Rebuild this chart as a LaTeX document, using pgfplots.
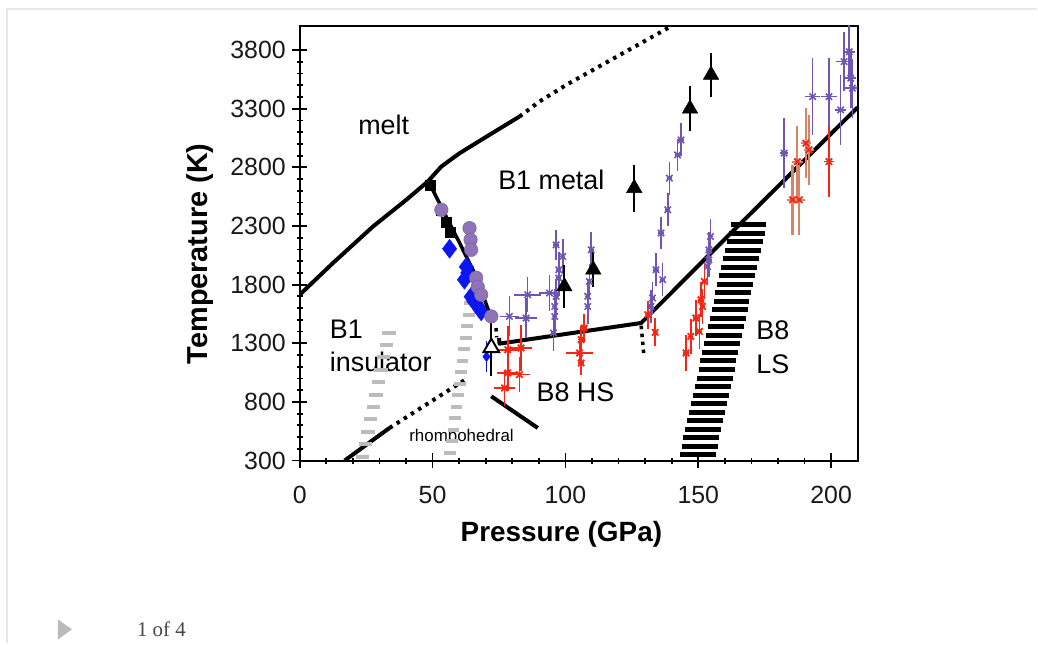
\documentclass[border=0pt]{standalone}
\usepackage{pgfplots}
\usepackage{pgfplotstable}
\pgfplotsset{compat=1.18}
\usepackage{fontspec}
\setmainfont{Liberation Sans}
\newfontfamily\captionserif{Liberation Serif}

\definecolor{vio}{RGB}{112,86,178}
\definecolor{circfill}{RGB}{142,116,182}
\definecolor{circedge}{RGB}{118,92,160}
\definecolor{dia}{RGB}{12,22,238}
\definecolor{rd}{RGB}{246,38,22}
\definecolor{rdbar}{RGB}{214,132,104}
\definecolor{hatchgray}{RGB}{188,188,188}
\definecolor{framegray}{RGB}{232,232,232}

% purple crosses: pressure, temperature, errors
\pgfplotstableread{
P T eP eT
78.9 1529 3.5 170
85.2 1515 4.0 170
85.8 1714 5.0 150
94.0 1728 4.0 150
96.5 2140 1.0 130
99.0 2040 1.0 150
97.5 1927 1.0 150
97.5 1856 1.0 150
96.5 1700 1.0 150
96.0 1614 1.0 150
96.0 1529 1.0 150
95.5 1388 1.0 150
109.7 2097 1.0 150
109.0 1827 1.0 150
108.4 1700 1.0 150
108.4 1614 1.0 150
143.5 3034 1.0 140
142.2 2906 1.0 140
139.1 2708 1.0 140
138.5 2438 1.0 140
136.0 2240 1.0 140
134.1 1927 1.0 140
136.6 1842 1.0 140
132.8 1686 1.0 140
132.2 1614 1.0 140
154.6 2211 1.0 150
154.0 2097 1.0 150
154.0 2012 1.0 150
153.5 1955 1.0 150
182.3 2921 1.5 300
193.0 3403 3.0 330
199.2 3403 3.0 330
203.6 3290 2.0 300
206.8 3786 2.0 250
204.9 3701 3.0 250
207.4 3560 2.0 250
208.0 3475 3.0 250
}\violetpts

% red crosses
\pgfplotstableread{
P T eP eT
77.1 919 4.0 150
78.3 1047 4.0 150
82.7 1033 4.0 150
78.3 1245 4.0 200
83.3 1260 4.0 200
107.1 1430 1.0 120
105.9 1331 1.0 120
105.3 1217 5.0 100
105.9 1132 1.0 100
131.0 1544 1.0 120
133.8 1393 1.0 120
152.3 1827 1.0 150
151.0 1671 1.0 150
151.6 1614 1.0 150
149.1 1516 1.0 150
150.4 1401 1.0 150
147.2 1359 1.0 150
145.4 1217 1.0 150
199.2 2849 2.0 300
}\redpts

% red crosses with light brown error bars
\pgfplotstableread{
P T eP eT
190.5 3006 2.0 300
191.7 2949 2.0 300
187.3 2849 2.0 300
185.5 2523 2.0 300
188.0 2523 2.0 300
}\redbrown

% black triangles with temperature errors
\pgfplotstableread{
P T eT
99.6 1785 180
110.5 1927 150
125.9 2623 200
146.9 3300 190
154.8 3588 190
}\triangles

% purple circles
\pgfplotstableread{
P T
53.3 2438
63.9 2282
64.3 2182
64.5 2097
66.4 1859
67.0 1782
68.3 1714
72.1 1529
}\circles

% blue diamonds
\pgfplotstableread{
P T
56.4 2106
62.7 1952
62.0 1842
63.2 1900
64.5 1697
65.5 1660
66.4 1637
67.5 1600
68.3 1572
}\diamonds

% black squares
\pgfplotstableread{
P T
49.2 2651
53.4 2438
55.3 2336
56.8 2250
}\squares

% B8 LS band: centre pressure and temperature of each stripe
\pgfplotstableread{
P T
149.8 350
150.5 423
151.2 495
151.9 568
152.6 640
153.3 713
154.0 786
154.8 858
155.5 931
156.2 1003
156.9 1076
157.6 1149
158.3 1221
159.0 1294
159.7 1366
160.4 1439
161.1 1512
161.8 1584
162.5 1657
163.2 1729
163.9 1802
164.5 1875
165.2 1947
165.9 2020
166.7 2092
167.5 2165
168.2 2238
168.9 2310
}\lsband

% grey bands near the insulator field
\pgfplotstableread{
P T
23.7 334
24.7 440
25.7 545
26.7 651
27.7 757
28.7 862
29.7 968
30.6 1073
31.6 1179
32.6 1285
33.6 1390
}\grayleft
\pgfplotstableread{
P T
56.7 365
57.3 463
57.9 562
58.4 660
59.0 758
59.6 857
60.2 955
60.7 1053
61.3 1152
61.9 1250
62.5 1348
63.0 1447
63.6 1545
64.2 1643
}\grayright

\begin{document}
\begin{tikzpicture}[x=1bp,y=1bp]
\fill[white] (0,0) rectangle (1038,-644);
\draw[framegray, line width=2bp] (7,-644) -- (7,-9) -- (1038,-9);
\fill[black!27] (58,-620) -- (72,-630) -- (58,-640) -- cycle;
\node[anchor=base west, inner sep=0pt, font=\captionserif\fontsize{21}{24}\selectfont, text=black!72] at (137,-637) {1 of 4};

\begin{axis}[
  at={(300bp,-461bp)}, anchor=south west,
  width=558.5bp, height=435.3bp, scale only axis,
  xmin=0, xmax=210, ymin=300, ymax=4008,
  axis line style={line width=2bp},
  tick pos=left,
  tick align=center,
  major tick length=15bp, minor tick length=6bp,
  every tick/.style={black, line width=1.8bp},
  xtick={0,50,100,150,200}, minor x tick num=4,
  ytick={300,800,1300,1800,2300,2800,3300,3800}, minor y tick num=4,
  /pgf/number format/assume math mode=true,
  /pgf/number format/1000 sep={},
  tick label style={font=\fontsize{25}{28}\selectfont, black!90},
  xticklabel style={yshift=-15bp},
  yticklabel style={xshift=-3bp},
  xlabel={Pressure (GPa)},
  ylabel={Temperature (K)},
  xlabel style={font=\bfseries\fontsize{28}{32}\selectfont, at={(axis description cs:0.469,0)}, anchor=center, yshift=-74bp},
  ylabel style={font=\bfseries\fontsize{29}{32}\selectfont, at={(axis description cs:-0.179,0.4755)}, anchor=center, rotate=0},
  clip=true,
]
% grey bands, drawn as short thick stripes
\addplot[only marks, mark=-, mark size=6.6bp, hatchgray, mark options={line width=4bp}]
  table[x=P, y=T] {\grayleft};
\addplot[only marks, mark=-, mark size=5.9bp, hatchgray, mark options={line width=4bp}]
  table[x=P, y=T] {\grayright};
% B8 LS band
\addplot[only marks, mark=-, mark size=18bp, black, mark options={line width=5bp}]
  table[x=P, y=T] {\lsband};

% melting curve
\addplot[black, line width=4bp, line join=round] coordinates {
  (0,1714) (12.5,1984) (27.6,2296) (40.1,2523) (48.2,2679) (53.3,2807)
  (60.2,2921) (71.4,3077) (82.7,3233)};
\addplot[black, line width=4bp, dash pattern=on 3.5bp off 5bp] coordinates {
  (82.7,3233) (90.2,3361) (100.3,3503) (140.2,4008)};

% insulator / rhombohedral boundary
\addplot[black, line width=4bp] coordinates {(16.9,300) (33.8,578)};
\addplot[black, line width=4bp, dash pattern=on 3.5bp off 5bp] coordinates {(33.8,578) (63.3,1004)};
% rhombohedral / B8 boundary
\addplot[black, line width=4bp] coordinates {(72.1,848) (89.6,578)};

% insulator / metal boundary along the black squares
\addplot[black, line width=3.5bp] coordinates {
  (48.2,2692) (55.1,2381) (60.2,2154) (66.4,1870) (71.4,1558)};

% B1 / B8 boundary
\addplot[black, line width=4bp, line join=round] coordinates {
  (75.0,1345) (75.2,1297) (128.5,1473) (160.4,2197) (210,3312)};
\addplot[black, line width=3.5bp, dash pattern=on 3.5bp off 4.5bp] coordinates {(73.9,1430) (74.1,1350)};
\addplot[black, line width=3.5bp, dash pattern=on 3.5bp off 4.5bp] coordinates {(128.5,1450) (129.5,1205)};

% data
\addplot[only marks, mark=x, mark size=4.5bp, vio, line width=1.6bp,
  error bars/.cd, x dir=both, x explicit, y dir=both, y explicit,
  error mark=none, error bar style={line width=1.6bp, vio}]
  table[x=P, y=T, x error=eP, y error=eT] {\violetpts};
\addplot[only marks, mark=x, mark size=4.5bp, rd, line width=1.8bp,
  error bars/.cd, x dir=both, x explicit, y dir=both, y explicit,
  error mark=none, error bar style={line width=1.6bp, rd}]
  table[x=P, y=T, x error=eP, y error=eT] {\redpts};
\addplot[only marks, mark=x, mark size=4.5bp, rd, line width=1.8bp,
  error bars/.cd, x dir=both, x explicit, y dir=both, y explicit,
  error mark=none, error bar style={line width=2.2bp, rdbar}]
  table[x=P, y=T, x error=eP, y error=eT] {\redbrown};

\addplot[only marks, mark=square*, mark size=5bp, black] table[x=P, y=T] {\squares};
\addplot[only marks, mark=diamond*, mark size=9.5bp, dia] table[x=P, y=T] {\diamonds};
\addplot[only marks, mark=diamond*, mark size=5bp, dia,
  error bars/.cd, y dir=both, y explicit, error mark=none, error bar style={line width=1.5bp, dia}]
  coordinates {(70.3,1186) +- (0,130)};
\addplot[only marks, mark=*, mark size=6.8bp, draw=circedge, fill=circfill] table[x=P, y=T] {\circles};

\addplot[only marks, mark=triangle*, mark size=9bp, black,
  error bars/.cd, y dir=both, y explicit, error mark=none, error bar style={line width=1.8bp, black}]
  table[x=P, y=T, y error=eT] {\triangles};
\addplot[only marks, mark=triangle*, mark size=9bp, draw=black, fill=white, line width=2bp,
  error bars/.cd, y dir=both, y explicit, error mark=none, error bar style={line width=1.8bp, black}]
  coordinates {(72.1,1263) +- (0,240)};

% phase labels
\node[font=\fontsize{27}{30}\selectfont] at (axis cs:31.6,3162) {melt};
\node[font=\fontsize{27}{30}\selectfont] at (axis cs:94.7,2694) {B1 metal};
\node[font=\fontsize{27}{30}\selectfont, anchor=west, inner sep=0pt] at (axis cs:11.3,1416) {B1};
\node[font=\fontsize{27}{30}\selectfont, anchor=west, inner sep=0pt] at (axis cs:11.3,1143) {insulator};
\node[font=\fontsize{27}{30}\selectfont] at (axis cs:103.8,879) {B8 HS};
\node[font=\fontsize{27}{30}\selectfont, anchor=west, inner sep=0pt] at (axis cs:171.8,1407) {B8};
\node[font=\fontsize{27}{30}\selectfont, anchor=west, inner sep=0pt] at (axis cs:171.8,1118) {LS};
\node[font=\fontsize{17}{20}\selectfont] at (axis cs:60.9,513) {rhombohedral};
\end{axis}
\end{tikzpicture}
\end{document}
